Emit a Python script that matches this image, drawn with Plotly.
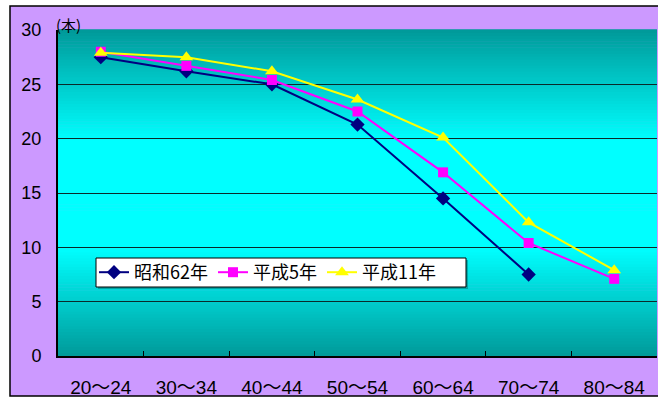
import plotly.graph_objects as go

# 年齢階級ごとの平均本数
age_groups = ["20～24", "30～34", "40～44", "50～54", "60～64", "70～74", "80～84"]
showa62 = [27.5, 26.2, 25.0, 21.3, 14.5, 7.5, None]
heisei5 = [28.0, 26.7, 25.4, 22.5, 16.9, 10.4, 7.1]
heisei11 = [27.9, 27.5, 26.2, 23.6, 20.1, 12.3, 7.9]

SERIES = [
    ("昭和62年", showa62, "#000080", "diamond", 11),
    ("平成5年", heisei5, "#FF00FF", "square", 10),
    ("平成11年", heisei11, "#FFFF00", "triangle-up", 12),
]

W, H = 658, 397
L, R, T, B = 58, 1, 30, 41
PW, PH = W - L - R, H - T - B


def px_x(p):
    return (p - L) / PW


def px_y(p):
    return (H - B - p) / PH


def _mix(c1, c2, t):
    return "#" + "".join(f"{round(a + (b - a) * t):02X}" for a, b in zip(c1, c2))


TEAL = (0x00, 0x99, 0x99)
CYAN = (0x00, 0xFF, 0xFF)


def grad_color(f):
    # f: 0 = bottom, 1 = top of plot area
    if f < 0.33:
        return _mix(TEAL, CYAN, f / 0.33)
    if f > 0.66:
        return _mix(CYAN, TEAL, (f - 0.66) / 0.34)
    return _mix(CYAN, CYAN, 0)


shapes = [
    dict(type="rect", xref="paper", yref="paper", layer="below",
         x0=px_x(10), x1=px_x(666), y0=px_y(396), y1=px_y(6),
         fillcolor="#CC99FF", line=dict(color="#000000", width=1.5)),
]
n = 110
for i in range(n):
    shapes.append(dict(type="rect", xref="paper", yref="paper", layer="below",
                       x0=0, x1=1, y0=i / n, y1=(i + 1) / n + 0.002,
                       fillcolor=grad_color((i + 0.5) / n), line=dict(width=0)))

# legend frame (drawn as shapes so the box can be as tight as the original)
shapes.append(dict(type="rect", xref="paper", yref="paper", layer="above",
                   x0=px_x(98), x1=px_x(468), y0=px_y(289), y1=px_y(260),
                   fillcolor="rgba(0,0,0,0.25)", line=dict(width=0)))
shapes.append(dict(type="rect", xref="paper", yref="paper", layer="above",
                   x0=px_x(96), x1=px_x(466), y0=px_y(287), y1=px_y(258),
                   fillcolor="#FFFFFF", line=dict(color="#000000", width=1)))

fig = go.Figure()
for name, vals, color, symbol, size in SERIES:
    fig.add_trace(go.Scatter(
        x=age_groups, y=vals, name=name, mode="lines+markers",
        line=dict(color=color, width=2),
        marker=dict(symbol=symbol, size=size, color=color, line=dict(width=0)),
    ))

fig.update_layout(
    width=W, height=H,
    margin=dict(l=L, r=R, t=T, b=B, pad=0, autoexpand=False),
    paper_bgcolor="#FFFFFF",
    plot_bgcolor="rgba(0,0,0,0)",
    font=dict(family="Liberation Sans, Noto Sans CJK JP, sans-serif", color="#000000", size=17),
    shapes=shapes,
    showlegend=True,
    legend=dict(
        orientation="h", x=px_x(94), y=px_y(272.5), xanchor="left", yanchor="middle",
        bgcolor="rgba(0,0,0,0)", borderwidth=0,
        font=dict(family="Noto Sans CJK JP, sans-serif", size=18),
        itemwidth=30, tracegroupgap=0,
    ),
    xaxis=dict(
        type="category", range=[-0.5, 6.5], showgrid=False, automargin=False,
        showline=True, linecolor="#000000", linewidth=2,
        ticks="inside", tickson="boundaries", ticklen=5, tickcolor="#000000",
        ticklabelstandoff=13,
        tickfont=dict(family="Liberation Sans, Noto Sans CJK JP, sans-serif", size=19),
    ),
    yaxis=dict(
        range=[0, 30], dtick=5, showgrid=True, gridcolor="#0A2A2A", gridwidth=1,
        showline=True, linecolor="#000000", linewidth=2, zeroline=False,
        automargin=False, ticks="", ticklabelstandoff=11,
        tickfont=dict(family="Liberation Sans, sans-serif", size=18),
    ),
    annotations=[dict(
        text="(本)", xref="paper", yref="paper", x=px_x(68), y=px_y(24),
        xanchor="center", yanchor="middle", showarrow=False,
        font=dict(family="Noto Sans CJK JP, sans-serif", size=15, color="#000000"),
    )],
)

fig.write_html(
    "out.html",
    config={"displayModeBar": False},
    post_script="document.body.style.margin='0';document.body.style.overflow='hidden';",
)
